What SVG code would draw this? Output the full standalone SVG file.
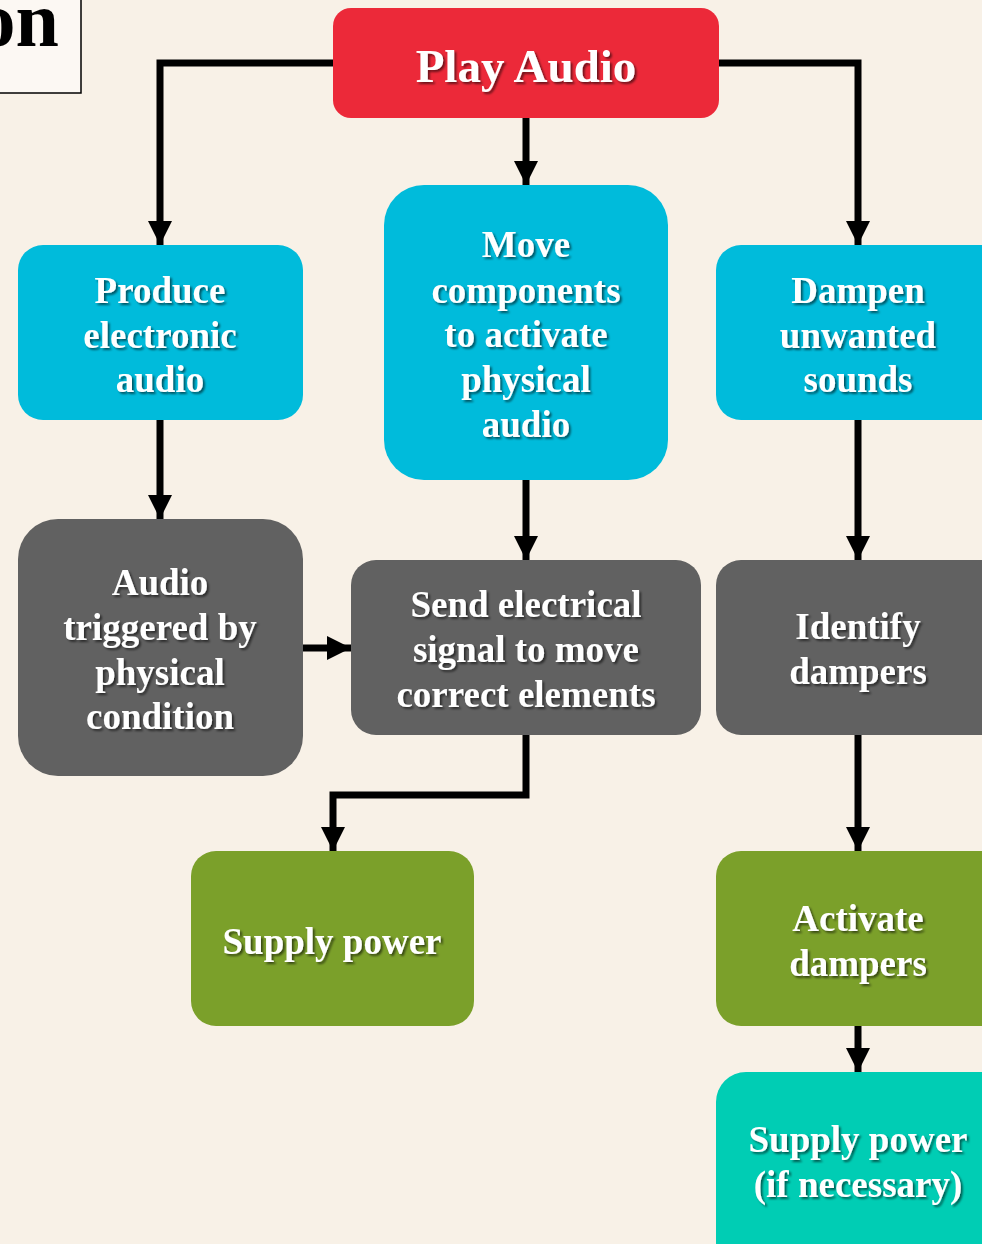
<svg xmlns="http://www.w3.org/2000/svg" width="982" height="1244" viewBox="0 0 982 1244">
<defs>
<style>
.t{font-family:"Liberation Serif","Times New Roman",serif;font-weight:bold;fill:#fff;text-anchor:middle;font-size:37px;filter:url(#sh)}
.big{font-size:47px}
.c{fill:none;stroke:#000;stroke-width:7;marker-end:url(#ah)}
</style>
<filter id="sh" x="-10%" y="-20%" width="120%" height="150%">
<feDropShadow dx="2" dy="2" stdDeviation="1" flood-color="#000" flood-opacity="0.55"/>
</filter>
<marker id="ah" markerUnits="userSpaceOnUse" markerWidth="24" markerHeight="24" viewBox="0 0 24 24" refX="24" refY="12" orient="auto">
<path d="M0,0 L24,12 L0,24 Z" fill="#000"/>
</marker>
</defs>
<rect width="982" height="1244" fill="#F8F1E7"/>
<g id="title">
<rect x="-10" y="-10" width="91" height="103" fill="#FCF8F3" stroke="#000" stroke-width="1.5"/>
<text x="59" y="46" font-family="Liberation Serif,serif" font-weight="bold" font-size="78" text-anchor="end" fill="#000">on</text>
</g>
<g id="connectors">
<path class="c" d="M333,63 H160 V245"/>
<path class="c" d="M719,63 H858 V245"/>
<path class="c" d="M526,118 V185"/>
<path class="c" d="M160,420 V519"/>
<path class="c" d="M526,480 V560"/>
<path class="c" d="M858,420 V560"/>
<path class="c" d="M303,648 H351"/>
<path class="c" d="M526,735 V795 H333 V851"/>
<path class="c" d="M858,735 V851"/>
<path class="c" d="M858,1026 V1072"/>
</g>
<g id="play-audio">
<rect x="333" y="8" width="386" height="110" rx="18" fill="#EC2939"/>
<text class="t big" x="526" y="82">Play Audio</text>
</g>
<g id="produce">
<rect x="18" y="245" width="285" height="175" rx="25" fill="#00BBDB"/>
<text class="t" x="160" y="303">Produce</text>
<text class="t" x="160" y="348">electronic</text>
<text class="t" x="160" y="392">audio</text>
</g>
<g id="move">
<rect x="384" y="185" width="284" height="295" rx="40" fill="#00BBDB"/>
<text class="t" x="526" y="257">Move</text>
<text class="t" x="526" y="303">components</text>
<text class="t" x="526" y="347">to activate</text>
<text class="t" x="526" y="392">physical</text>
<text class="t" x="526" y="437">audio</text>
</g>
<g id="dampen">
<rect x="716" y="245" width="300" height="175" rx="25" fill="#00BBDB"/>
<text class="t" x="858" y="303">Dampen</text>
<text class="t" x="858" y="348">unwanted</text>
<text class="t" x="858" y="392">sounds</text>
</g>
<g id="audio-triggered">
<rect x="18" y="519" width="285" height="257" rx="40" fill="#616161"/>
<text class="t" x="160" y="595">Audio</text>
<text class="t" x="160" y="640">triggered by</text>
<text class="t" x="160" y="685">physical</text>
<text class="t" x="160" y="729">condition</text>
</g>
<g id="send">
<rect x="351" y="560" width="350" height="175" rx="25" fill="#616161"/>
<text class="t" x="526" y="617">Send electrical</text>
<text class="t" x="526" y="662">signal to move</text>
<text class="t" x="526" y="707">correct elements</text>
</g>
<g id="identify">
<rect x="716" y="560" width="300" height="175" rx="25" fill="#616161"/>
<text class="t" x="858" y="639">Identify</text>
<text class="t" x="858" y="684">dampers</text>
</g>
<g id="supply-power">
<rect x="191" y="851" width="283" height="175" rx="25" fill="#7BA02A"/>
<text class="t" x="332" y="954">Supply power</text>
</g>
<g id="activate">
<rect x="716" y="851" width="300" height="175" rx="25" fill="#7BA02A"/>
<text class="t" x="858" y="931">Activate</text>
<text class="t" x="858" y="976">dampers</text>
</g>
<g id="supply-power-if">
<rect x="716" y="1072" width="300" height="200" rx="30" fill="#00CDB4"/>
<text class="t" x="858" y="1152">Supply power</text>
<text class="t" x="858" y="1197">(if necessary)</text>
</g>
</svg>
